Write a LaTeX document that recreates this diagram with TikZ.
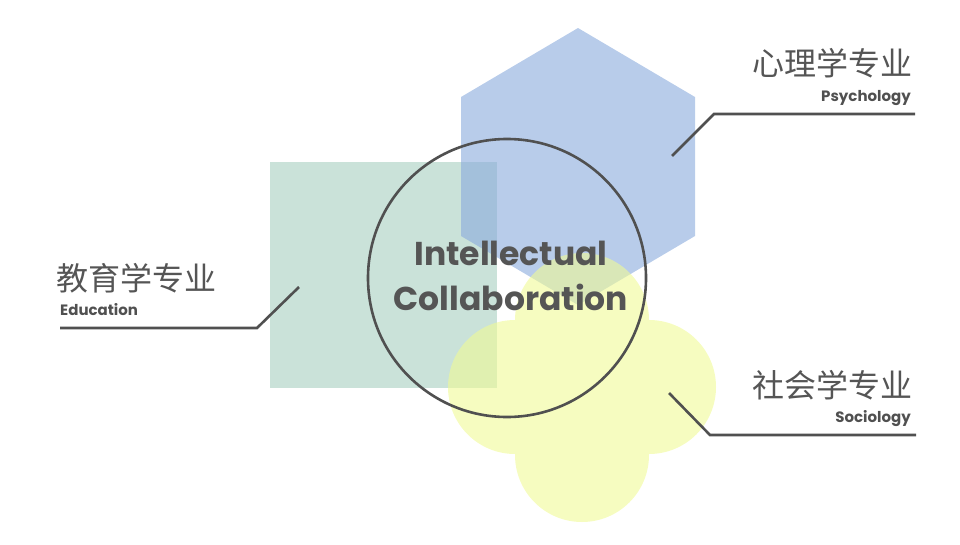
\documentclass[tikz,border=0pt]{standalone}
\usepackage{fontspec}
\setmainfont{Poppins}
\newfontfamily\cjk{Noto Sans CJK SC}
\usepackage{tikz}
\usetikzlibrary{positioning}

\definecolor{hexblue}{RGB}{137,170,220}
\definecolor{sqgreen}{RGB}{166,206,192}
\definecolor{flyellow}{RGB}{240,250,150}
\definecolor{ringgray}{RGB}{80,80,80}
\definecolor{textgray}{RGB}{85,85,85}

\tikzset{
  blob/.style={fill opacity=0.6, draw=none},
  leader/.style={draw=ringgray, line width=2.6pt},
  major/.style={font=\cjk\fontsize{32}{35}\selectfont, text=textgray, inner sep=0pt},
  minor/.style={font=\bfseries\fontsize{15}{17}\selectfont, text=ringgray, inner sep=0pt}
}

\begin{document}
\begin{tikzpicture}[x=1pt,y=-1pt]
    \useasboundingbox (0,0) rectangle (960,544);

    % square, hexagon and cloud
    \fill[blob, sqgreen] (270,162) rectangle (497,388);
    \fill[blob, hexblue] (578,28) -- (695,97) -- (695,236) -- (578,305)
        -- (461,236) -- (461,97) -- cycle;
    \fill[blob, flyellow] (582,320) circle (67) (582,455) circle (67)
        (515,387) circle (67) (649,387) circle (67);

    % ring and centre title
    \node[circle, draw=ringgray, line width=2.6pt, minimum size=278pt,
          inner sep=0pt] (ring) at (507,278) {};
    \node[font=\bfseries\fontsize{33}{45}\selectfont, text=textgray,
          align=center] (core) at (511,276) {Intellectual\\Collaboration};

    % leader end points
    \coordinate (psy-a) at (672,156);
    \coordinate (psy-b) at (714,114);
    \coordinate (psy-c) at (915,114);
    \coordinate (edu-a) at (299,287);
    \coordinate (edu-b) at (257,328);
    \coordinate (edu-c) at (60,328);
    \coordinate (soc-a) at (669,393);
    \coordinate (soc-b) at (710,435);
    \coordinate (soc-c) at (916,435);
    \draw[leader] (psy-a) -- (psy-b) -- (psy-c);
    \draw[leader] (edu-a) -- (edu-b) -- (edu-c);
    \draw[leader] (soc-a) -- (soc-b) -- (soc-c);

    % labels
    \node[minor, anchor=base east] (psy-en) at (911,101) {Psychology};
    \node[major, anchor=base east] (psy-cn) at (913,75) {心理学专业};
    \node[minor, anchor=base west] (edu-en) at (60,315) {Education};
    \node[major, anchor=base west] (edu-cn) at (56,290) {教育学专业};
    \node[minor, anchor=base east] (soc-en) at (911,422) {Sociology};
    \node[major, anchor=base east] (soc-cn) at (913,397) {社会学专业};
\end{tikzpicture}
\end{document}
